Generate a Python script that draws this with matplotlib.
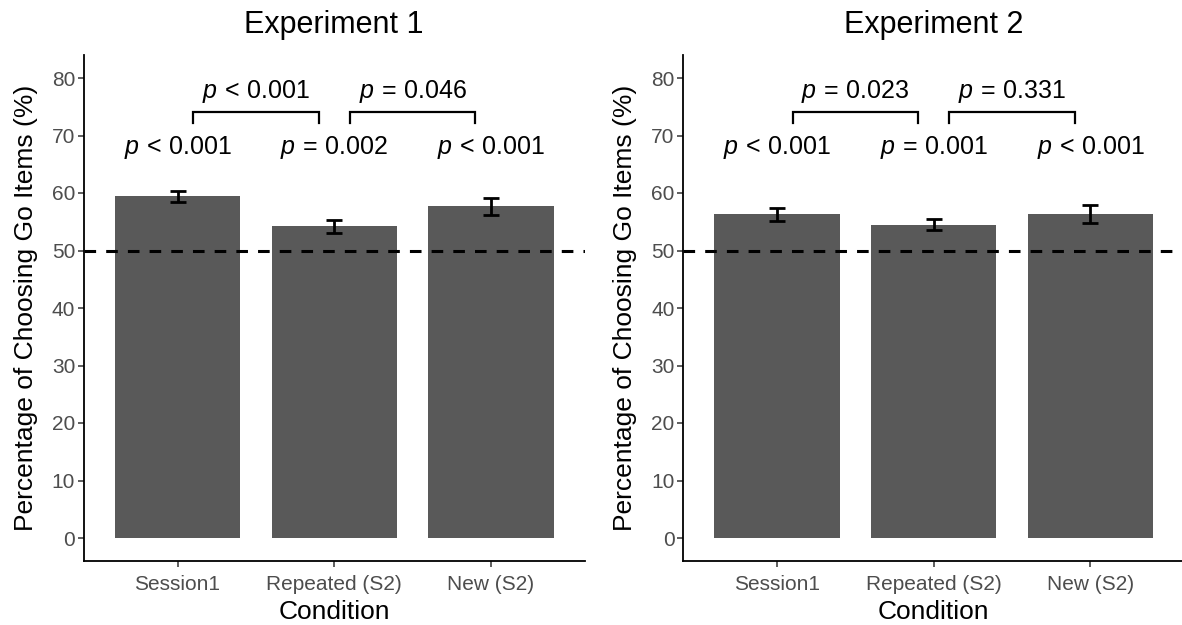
import numpy as np
import matplotlib
matplotlib.use('Agg')
import matplotlib.pyplot as plt

plt.rcParams['font.family'] = ['Liberation Sans', 'DejaVu Sans']
plt.rcParams['mathtext.fontset'] = 'custom'
plt.rcParams['mathtext.rm'] = 'Liberation Sans'
plt.rcParams['mathtext.it'] = 'Liberation Sans:italic'

# 数据
conditions = ['Session1', 'Repeated (S2)', 'New (S2)']
titles = ['Experiment 1', 'Experiment 2']
exp1_mean = [59.4, 54.2, 57.7]
exp1_se = [1.0, 1.1, 1.5]
exp2_mean = [56.3, 54.5, 56.3]
exp2_se = [1.1, 1.0, 1.6]
exp1_vs_chance = ['<', '=', '<']
exp1_vs_chance_p = ['0.001', '0.002', '0.001']
exp1_pairs = ['<', '=']
exp1_pairs_p = ['0.001', '0.046']
exp2_vs_chance = ['<', '=', '<']
exp2_vs_chance_p = ['0.001', '0.001', '0.001']
exp2_pairs = ['=', '=']
exp2_pairs_p = ['0.023', '0.331']
chance = 50


def p_label(op, val):
    # 斜体 p，关系符号两侧留一点空
    return r'$\mathit{p}\,' + op + r'\,' + val + '$'


W, H = 1182, 625
fig = plt.figure(figsize=(W / 100, H / 100), dpi=100)

panels = [
    (83.5, exp1_mean, exp1_se, exp1_vs_chance, exp1_vs_chance_p, exp1_pairs, exp1_pairs_p, titles[0]),
    (683.0, exp2_mean, exp2_se, exp2_vs_chance, exp2_vs_chance_p, exp2_pairs, exp2_pairs_p, titles[1]),
]
ax_w = 501.5
ax_top, ax_bot = 55, 561

for left_px, means, ses, ops1, ps1, ops2, ps2, title in panels:
    ax = fig.add_axes([left_px / W, 1 - ax_bot / H, ax_w / W, (ax_bot - ax_top) / H])
    x = np.arange(len(conditions))
    ax.bar(x, means, width=0.8, color='#595959', edgecolor='none', zorder=1)
    ax.errorbar(x, means, yerr=ses, fmt='none', ecolor='black',
                elinewidth=2, capsize=6, capthick=2, zorder=3)
    ax.axhline(chance, color='black', linewidth=2.2, dashes=(3.8, 3.3), zorder=4)

    # 与机会水平比较的 p 值
    for i in range(len(conditions)):
        ax.text(x[i], 66.8, p_label(ops1[i], ps1[i]),
                ha='center', va='baseline', fontsize=18)

    # 两两比较的括号和 p 值
    for i in range(len(ops2)):
        x0, x1 = x[i] + 0.1, x[i + 1] - 0.1
        ax.plot([x0, x0, x1, x1], [72.1, 74.1, 74.1, 72.1], color='black',
                linewidth=1.6, solid_joinstyle='miter', zorder=5)
        ax.text((x0 + x1) / 2, 76.6, p_label(ops2[i], ps2[i]),
                ha='center', va='baseline', fontsize=18)

    ax.set_xlim(-0.6, 2.6)
    ax.set_ylim(-4, 84)
    ax.set_yticks(range(0, 81, 10))
    ax.set_xticks(x)
    ax.set_xticklabels(conditions)
    for s in ['top', 'right']:
        ax.spines[s].set_visible(False)
    for s in ['left', 'bottom']:
        ax.spines[s].set_linewidth(1.3)
        ax.spines[s].set_color('black')
    ax.tick_params(axis='both', length=4, width=1.1, color='#333333',
                   labelcolor='#4D4D4D', labelsize=15)
    ax.tick_params(axis='x', pad=6)
    ax.tick_params(axis='y', pad=2)

    cx = (left_px + ax_w / 2) / W
    fig.text(cx, 1 - 33 / H, title, ha='center', va='baseline', fontsize=22)
    fig.text(cx, 1 - 619 / H, 'Condition', ha='center', va='baseline', fontsize=19)
    fig.text((left_px - 57.5) / W, 1 - 308 / H, 'Percentage of Choosing Go Items (%)',
             rotation=90, ha='center', va='center', fontsize=19)

plt.savefig('out.png', dpi=100, facecolor='white')
